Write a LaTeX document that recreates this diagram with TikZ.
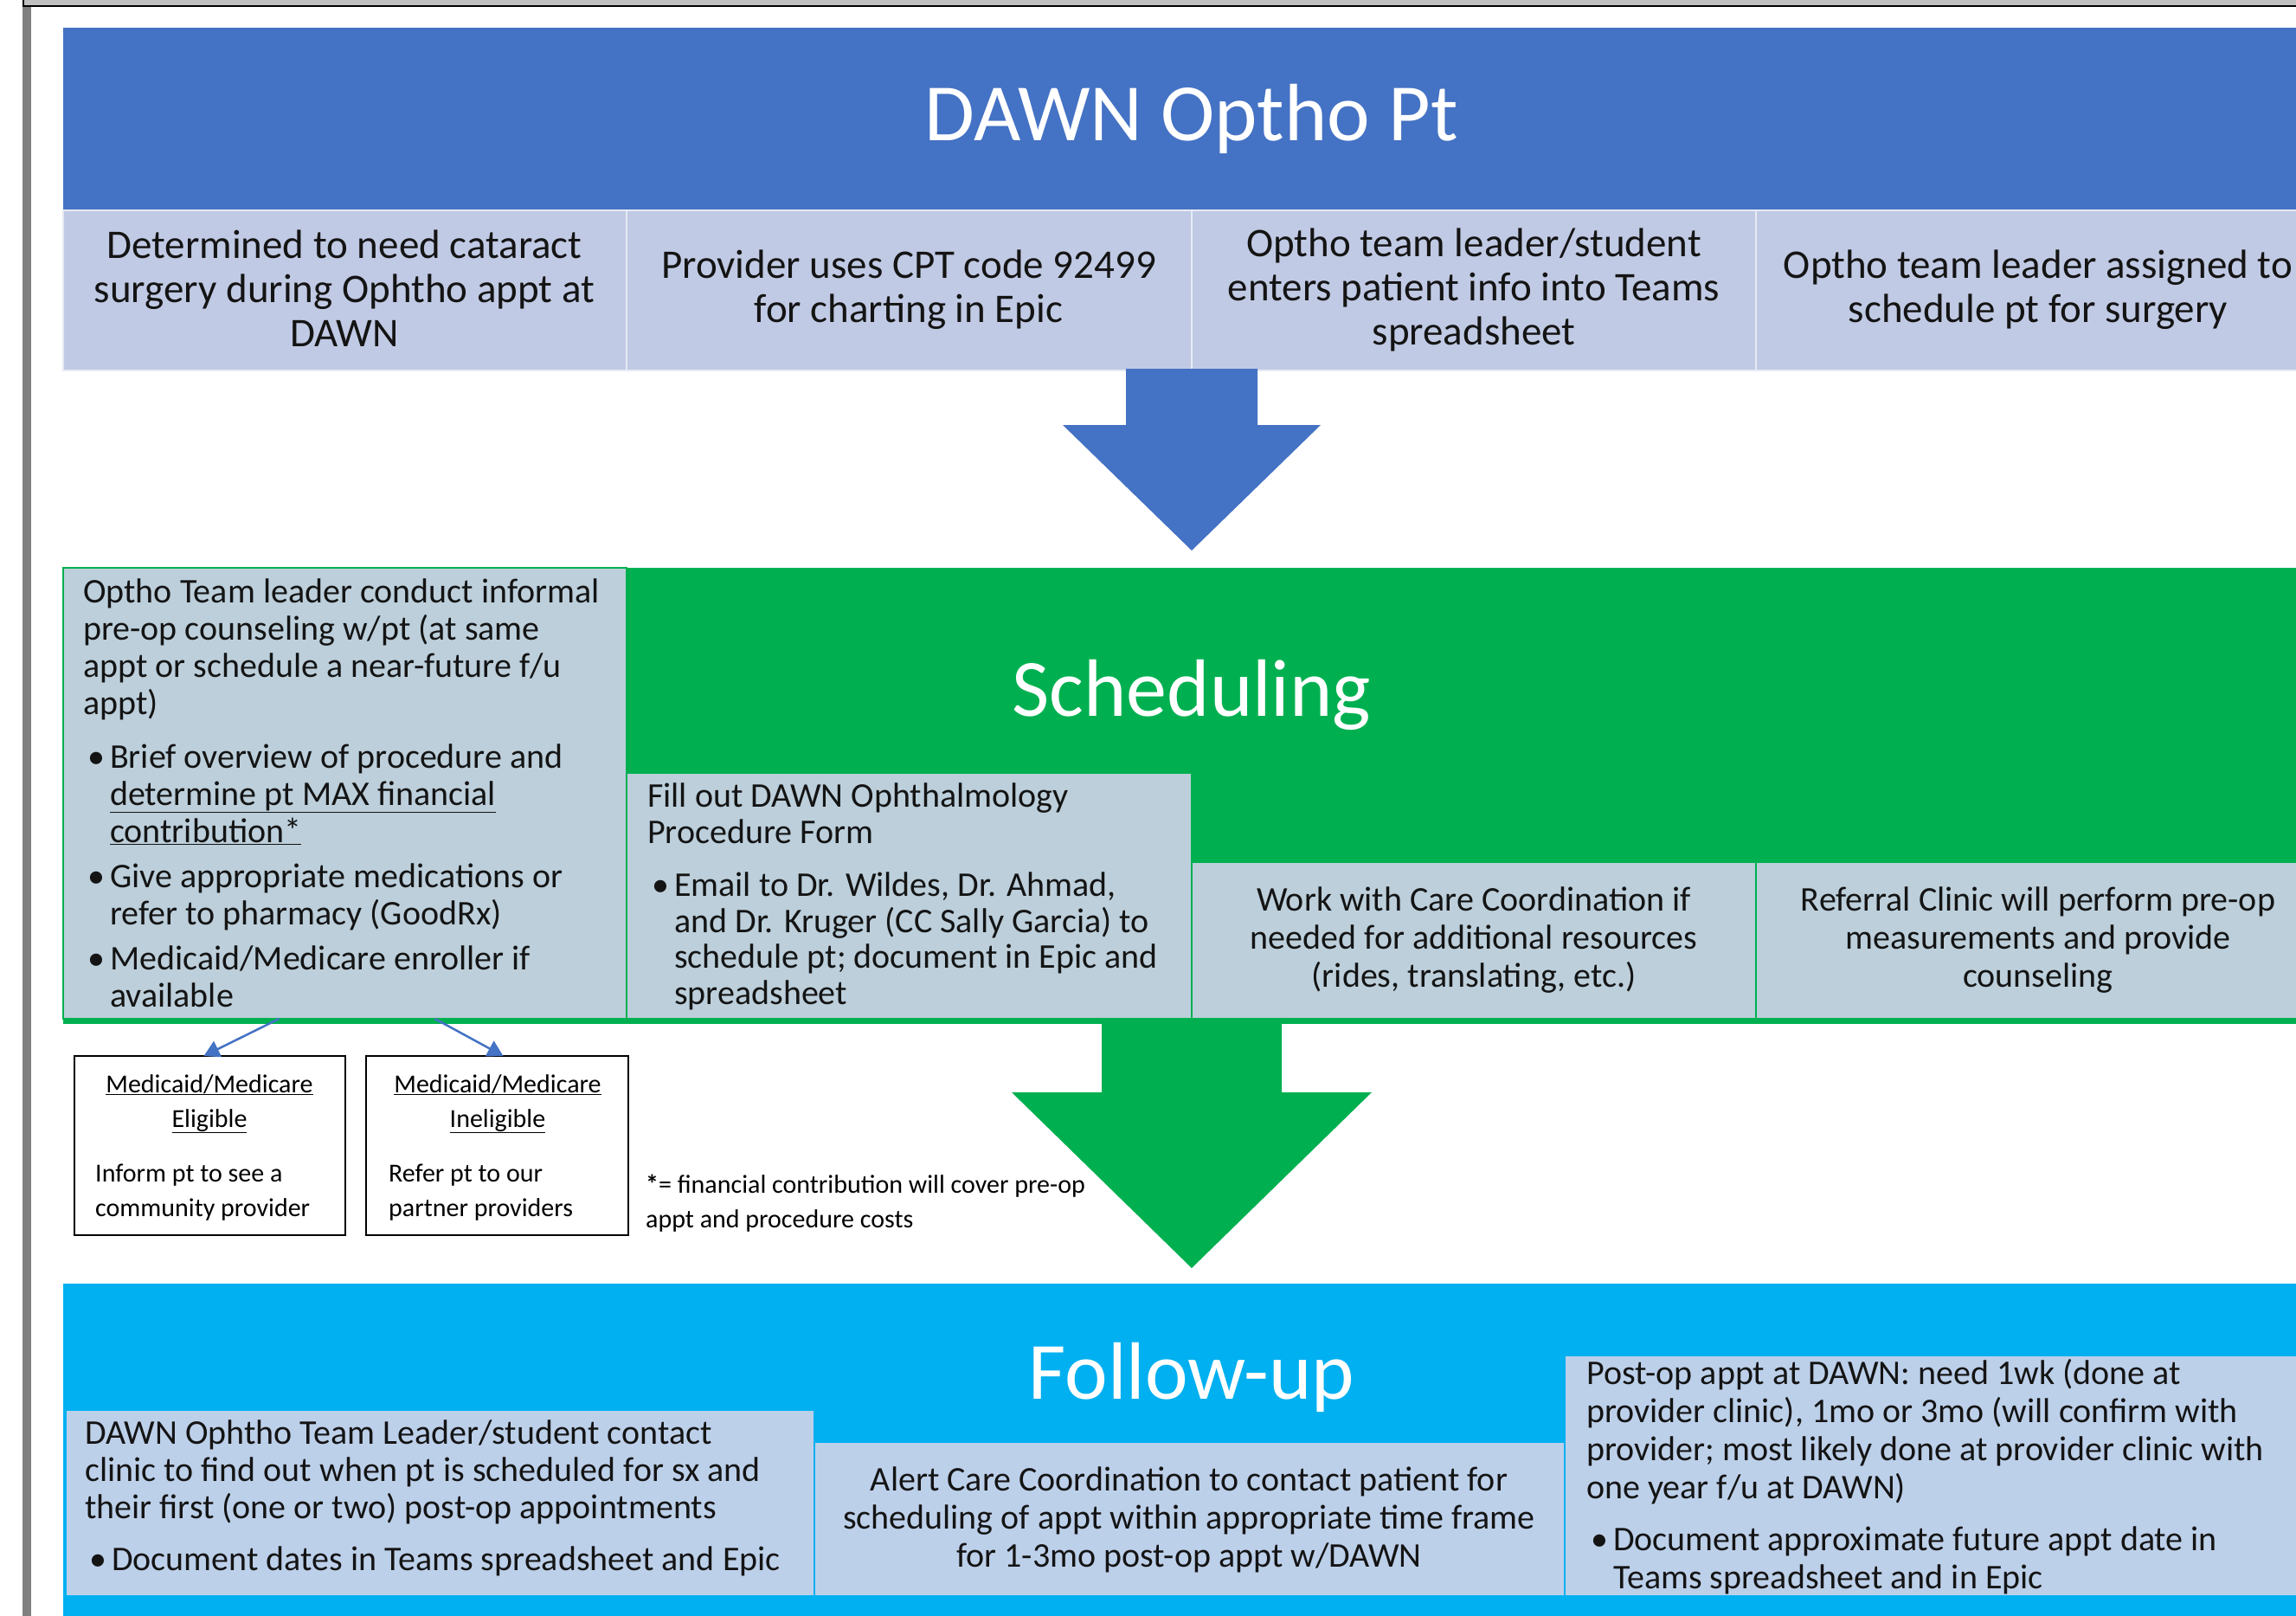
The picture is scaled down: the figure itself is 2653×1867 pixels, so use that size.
\documentclass[tikz,border=0pt]{standalone}
\usepackage{fontspec}
\setmainfont{Carlito}
\usetikzlibrary{arrows.meta}
\definecolor{hdrblue}{HTML}{4472C4}
\definecolor{hdrcell}{HTML}{C1CAE4}
\definecolor{schgreen}{HTML}{00B050}
\definecolor{schcell}{HTML}{BCCFDB}
\definecolor{fucyan}{HTML}{00B0F0}
\definecolor{fucell}{HTML}{BDD0EA}
\definecolor{framegray}{HTML}{C0C0C0}
\definecolor{bargray}{HTML}{808080}
\definecolor{inktext}{HTML}{141414}
\newcommand{\bl}{\hspace*{5pt}\makebox[26pt][l]{•}}
\newcommand{\ci}{\hspace*{31pt}}
\begin{document}
\begin{tikzpicture}[x=1pt,y=-1pt,
  cellbox/.style={rectangle, inner sep=0pt, outer sep=0pt, anchor=north west},
  titletext/.style={text=white, font=\fontsize{94}{100}\selectfont, inner sep=0pt, anchor=base},
  hdrtext/.style={font=\fontsize{47}{51}\selectfont, align=center, inner sep=0pt, anchor=base, text=inktext},
  bodytext/.style={font=\fontsize{40}{43}\selectfont, align=left, inner sep=0pt, anchor=base west, text=inktext},
  ctrtext/.style={font=\fontsize{40}{44}\selectfont, align=center, inner sep=0pt, anchor=base, text=inktext},
  smalltext/.style={font=\fontsize{30}{40}\selectfont, inner sep=0pt, text=black},
  link/.style={draw=hdrblue, line width=2.5pt, -{Triangle[length=18pt,width=20pt]}}]
\useasboundingbox (0,0) rectangle (2653,1867);
\clip (0,0) rectangle (2653,1867);
\fill[white] (0,0) rectangle (2653,1867);
% window frame
\fill[framegray] (28,0) rectangle (2653,6);
\fill[black] (26,0) rectangle (28,8);
\fill[black] (26,6) rectangle (2653,8);
\fill[bargray] (26,8) rectangle (36,1867);

% ---------- DAWN Optho Pt ----------
\node[cellbox, fill=hdrblue, minimum width=2608, minimum height=211] (hdr) at (73,32) {};
\node[titletext] (hdrtitle) at (1377,163) {DAWN Optho Pt};
\node[cellbox, fill=hdrcell, draw=white!60!hdrcell, line width=2, minimum width=651, minimum height=185] (c1) at (73,243) {};
\node[cellbox, fill=hdrcell, draw=white!60!hdrcell, line width=2, minimum width=653, minimum height=185] (c2) at (724,243) {};
\node[cellbox, fill=hdrcell, draw=white!60!hdrcell, line width=2, minimum width=652, minimum height=185] (c3) at (1377,243) {};
\node[cellbox, fill=hdrcell, draw=white!60!hdrcell, line width=2, minimum width=652, minimum height=185] (c4) at (2029,243) {};
% (base anchor = baseline of the last line)
\node[hdrtext] (t1) at (398,400) {Determined to need cataract\\surgery during Ophtho appt at\\DAWN};
\node[hdrtext] (t2) at (1050,373) {Provider uses CPT code 92499\\for charting in Epic};
\node[hdrtext] (t3) at (1703,399) {Optho team leader/student\\enters patient info into Teams\\spreadsheet};
\node[hdrtext] (t4) at (2355,373) {Optho team leader assigned to\\schedule pt for surgery};
% blue arrow
\fill[hdrblue] (1301,426) -- (1453,426) -- (1453,491) -- (1526,491) -- (1377,636) -- (1228,491) -- (1301,491) -- cycle;

% ---------- Scheduling ----------
\node[cellbox, fill=schgreen, minimum width=2608, minimum height=527] (sch) at (73,656) {};
\node[titletext] (schtitle) at (1377,827) {Scheduling};
\node[cellbox, fill=schcell, draw=schgreen, line width=2, minimum width=651, minimum height=521] (sleft) at (73,656) {};
\node[cellbox, fill=schcell, draw=schgreen, line width=2, minimum width=653, minimum height=284] (smid) at (724,893) {};
\node[cellbox, fill=schcell, draw=schgreen, line width=2, minimum width=652, minimum height=181] (sr1) at (1377,996) {};
\node[cellbox, fill=schcell, draw=schgreen, line width=2, minimum width=652, minimum height=181] (sr2) at (2029,996) {};
\node[bodytext] (s1) at (96,1163) {Optho Team leader conduct informal\\
pre-op counseling w/pt (at same\\
appt or schedule a near-future f/u\\
appt)\\[19pt]
\bl Brief overview of procedure and\\
\ci\underline{determine pt MAX financial}\\
\ci\underline{contribution*}\\[9pt]
\bl Give appropriate medications or\\
\ci refer to pharmacy (GoodRx)\\[9pt]
\bl Medicaid/Medicare enroller if\\
\ci available};
\node[bodytext, font=\fontsize{40}{41.5}\selectfont] (s2) at (748,1160) {Fill out DAWN Ophthalmology\\
Procedure Form\\[20pt]
\bl Email to Dr. Wildes, Dr. Ahmad,\\
\ci and Dr. Kruger (CC Sally Garcia) to\\
\ci schedule pt; document in Epic and\\
\ci spreadsheet};
\node[ctrtext] (s3) at (1703,1140) {Work with Care Coordination if\\needed for additional resources\\(rides, translating, etc.)};
\node[ctrtext] (s4) at (2355,1140) {Referral Clinic will perform pre-op\\measurements and provide\\counseling};
% green arrow
\fill[schgreen] (1273,1180) -- (1481,1180) -- (1481,1262) -- (1585,1262) -- (1377,1465) -- (1169,1262) -- (1273,1262) -- cycle;

% Medicaid / Medicare boxes
\node[cellbox, draw=black, line width=2.5, fill=white, minimum width=313, minimum height=207] (elig) at (86,1220) {};
\node[cellbox, draw=black, line width=2.5, fill=white, minimum width=303, minimum height=207] (inelig) at (423,1220) {};
\node[smalltext, anchor=base, align=center] (elighd) at (242,1302) {\underline{Medicaid/Medicare}\\\underline{Eligible}};
\node[smalltext, anchor=base west, align=left] (eligtx) at (110,1405) {Inform pt to see a\\community provider};
\node[smalltext, anchor=base, align=center] (ineligh) at (575,1302) {\underline{Medicaid/Medicare}\\\underline{Ineligible}};
\node[smalltext, anchor=base west, align=left] (inelitx) at (449,1405) {Refer pt to our\\partner providers};
\node[smalltext, anchor=base west, align=left] (fnote) at (746,1418) {\textbf{*}= financial contribution will cover pre-op\\appt and procedure costs};
\draw[link] ([xshift=-76]sleft.south) -- ([xshift=-7]elig.north);
\draw[link] ([xshift=104]sleft.south) -- ([xshift=7]inelig.north);

% ---------- Follow-up ----------
\node[cellbox, fill=fucyan, minimum width=2608, minimum height=400] (fu) at (73,1483) {};
\node[titletext] (futitle) at (1377,1616) {Follow-up};
\node[cellbox, fill=fucell, draw=fucyan, line width=2, minimum width=865, minimum height=215] (fleft) at (76,1629) {};
\node[cellbox, fill=fucell, draw=fucyan, line width=2, minimum width=867, minimum height=178] (fmid) at (941,1666) {};
\node[cellbox, fill=fucell, draw=fucyan, line width=2, minimum width=873, minimum height=278] (fright) at (1808,1566) {};
\node[bodytext] (f1) at (98,1814) {DAWN Ophtho Team Leader/student contact\\
clinic to find out when pt is scheduled for sx and\\
their first (one or two) post-op appointments\\[17pt]
\bl Document dates in Teams spreadsheet and Epic};
\node[ctrtext] (f2) at (1374,1810) {Alert Care Coordination to contact patient for\\scheduling of appt within appropriate time frame\\for 1-3mo post-op appt w/DAWN};
\node[bodytext, font=\fontsize{40}{44}\selectfont] (f3) at (1833,1835) {Post-op appt at DAWN: need 1wk (done at\\
provider clinic), 1mo or 3mo (will confirm with\\
provider; most likely done at provider clinic with\\
one year f/u at DAWN)\\[16pt]
\bl Document approximate future appt date in\\
\ci Teams spreadsheet and in Epic};
\end{tikzpicture}
\end{document}
